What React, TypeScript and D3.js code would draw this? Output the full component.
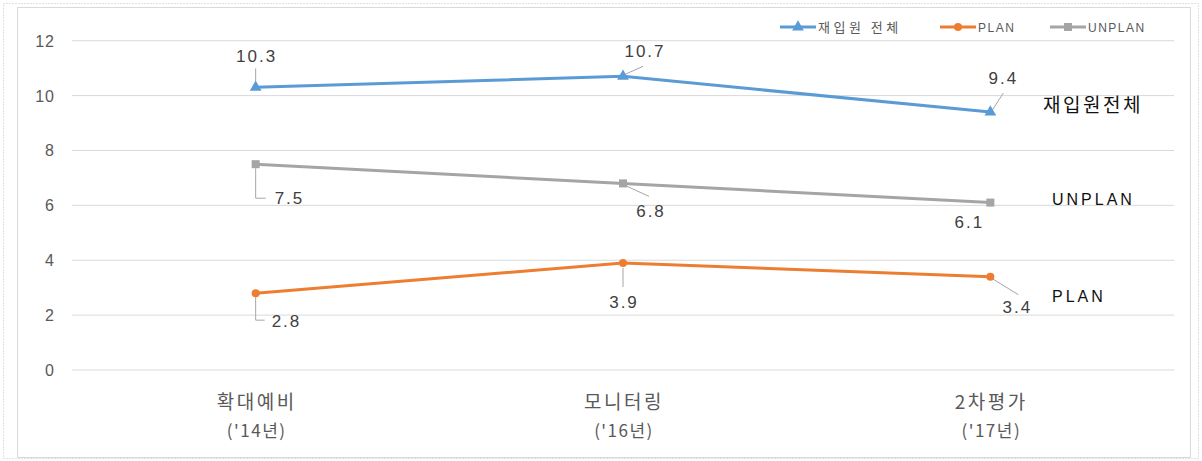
import React from "react";
import * as d3 from "d3";

const categories = ["확대예비", "모니터링", "2차평가"];
const categoryYears = ["('14년)", "('16년)", "('17년)"];
const seriesNames = ["재입원 전체", "PLAN", "UNPLAN"];
const totalValues = [10.3, 10.7, 9.4];
const planValues = [2.8, 3.9, 3.4];
const unplanValues = [7.5, 6.8, 6.1];
const yTicks = [0, 2, 4, 6, 8, 10, 12];
const sideLabels = ["재입원전체", "PLAN", "UNPLAN"];

// label placement (relative to point) — style config, not data
type LabelCfg = { dx: number; dy: number; anchor: string; leader: "v" | "d" | "elbow" | "none"; lx?: number; ly?: number };
const totalLabelCfg: LabelCfg[] = [
  { dx: 0, dy: -25, anchor: "middle", leader: "v", ly: -19 },
  { dx: 21, dy: -19, anchor: "middle", leader: "d", lx: 20, ly: -10 },
  { dx: 12, dy: -28, anchor: "middle", leader: "d", lx: 13, ly: -19 },
];
const unplanLabelCfg: LabelCfg[] = [
  { dx: 19, dy: 40, anchor: "start", leader: "elbow", lx: 10, ly: 34 },
  { dx: 27, dy: 34, anchor: "middle", leader: "d", lx: 26, ly: 13 },
  { dx: -22, dy: 25, anchor: "middle", leader: "none" },
];
const planLabelCfg: LabelCfg[] = [
  { dx: 16, dy: 34, anchor: "start", leader: "elbow", lx: 9, ly: 27 },
  { dx: 0, dy: 45, anchor: "middle", leader: "v", ly: 24 },
  { dx: 26, dy: 36, anchor: "middle", leader: "d", lx: 28, ly: 18 },
];

const W = 1202;
const H = 461;
const left = 72;
const right = 1174;

export default function App() {
  const x = d3.scaleBand<string>().domain(categories).range([left, right]);
  const y = d3.scaleLinear().domain([0, 12]).range([370, 40.7]);
  const cx = (c: string) => (x(c) as number) + x.bandwidth() / 2;

  const line = d3
    .line<number>()
    .x((_, i) => cx(categories[i]))
    .y((v) => y(v));

  const colors = ["#5B9BD5", "#ED7D31", "#A5A5A5"];
  const series = [
    { name: seriesNames[0], values: totalValues, color: colors[0], marker: "tri", cfg: totalLabelCfg },
    { name: seriesNames[1], values: planValues, color: colors[1], marker: "circ", cfg: planLabelCfg },
    { name: seriesNames[2], values: unplanValues, color: colors[2], marker: "sq", cfg: unplanLabelCfg },
  ];

  const marker = (type: string, px: number, py: number, color: string, key: string) => {
    if (type === "tri") {
      const p = d3.symbol().type(d3.symbolTriangle).size(60)();
      return <path key={key} d={p as string} transform={`translate(${px},${py})`} fill={color} />;
    }
    if (type === "circ") return <circle key={key} cx={px} cy={py} r={4} fill={color} />;
    return <rect key={key} x={px - 4} y={py - 4} width={8} height={8} fill={color} />;
  };

  const sans = "'Liberation Sans', Arial, sans-serif";
  const uiFont = "'Noto Sans CJK KR', 'Liberation Sans', Arial, sans-serif";

  const legendXs = [780, 940, 1050];

  return (
    <svg
      width={W}
      height={H}
      style={{ position: "absolute", left: 0, top: 0, background: "#fff" }}
      fontFamily={uiFont}
    >
      <rect x={3.5} y={3.5} width={1195} height={455} fill="none" stroke="#C0C0C0" strokeDasharray="1,2" />
      <rect x={17.5} y={7.5} width={1173} height={450} fill="#fff" stroke="#D9D9D9" />

      {yTicks.map((t) => (
        <g key={t}>
          <line x1={left} x2={right} y1={y(t)} y2={y(t)} stroke="#D9D9D9" strokeWidth={1} />
          <text x={55} y={y(t) + 6} textAnchor="end" fontSize={16} fill="#595959" fontFamily={sans} letterSpacing={1}>
            {t}
          </text>
        </g>
      ))}

      {categories.map((c, i) => (
        <g key={c}>
          <text x={cx(c) + 1} y={409} textAnchor="middle" fontSize={19} fill="#595959" letterSpacing={2.5}>
            {c}
          </text>
          <text x={cx(c) + 1} y={437} textAnchor="middle" fontSize={17} fill="#595959" letterSpacing={1.5}>
            {categoryYears[i]}
          </text>
        </g>
      ))}

      {series.map((s) => (
        <path key={s.name} d={line(s.values) as string} fill="none" stroke={s.color} strokeWidth={3} />
      ))}

      {series.map((s) =>
        s.values.map((v, i) => {
          const px = cx(categories[i]);
          const py = y(v);
          const c = s.cfg[i];
          let leader: React.ReactNode = null;
          if (c.leader === "v") {
            const y1 = c.ly! < 0 ? py + c.ly! : py + 5;
            const y2 = c.ly! < 0 ? py - 4 : py + c.ly!;
            leader = <line x1={px} x2={px} y1={y1} y2={y2} stroke="#A6A6A6" strokeWidth={1} />;
          } else if (c.leader === "d") {
            leader = <line x1={px + 2} y1={py + (c.ly! < 0 ? -2 : 2)} x2={px + c.lx!} y2={py + c.ly!} stroke="#A6A6A6" strokeWidth={1} />;
          } else if (c.leader === "elbow") {
            leader = (
              <polyline
                points={`${px},${py + 4} ${px},${py + c.ly!} ${px + c.lx!},${py + c.ly!}`}
                fill="none"
                stroke="#A6A6A6"
                strokeWidth={1}
              />
            );
          }
          return (
            <g key={s.name + i}>
              {leader}
              {marker(s.marker, px, py, s.color, "m")}
              <text
                x={px + c.dx + (c.anchor === "middle" ? 1 : 0)}
                y={py + c.dy}
                textAnchor={c.anchor as any}
                fontSize={17}
                fill="#404040"
                fontFamily={sans}
                letterSpacing={2}
              >
                {v.toFixed(1)}
              </text>
            </g>
          );
        })
      )}

      {/* legend */}
      {series.map((s, i) => (
        <g key={"lg" + i}>
          <line x1={legendXs[i]} x2={legendXs[i] + 36} y1={27} y2={27} stroke={s.color} strokeWidth={3} />
          {marker(s.marker, legendXs[i] + 18, 27, s.color, "lm")}
          <text
            x={legendXs[i] + 38}
            y={31.5}
            fontSize={i === 0 ? 13 : 12}
            fill="#595959"
            letterSpacing={i === 0 ? 3.5 : 1.5}
            fontFamily={i === 0 ? uiFont : sans}
          >
            {s.name}
          </text>
        </g>
      ))}

      {/* side labels */}
      <text x={1043} y={112} fontSize={19} fill="#111" letterSpacing={2.5}>
        {sideLabels[0]}
      </text>
      <text x={1052} y={205} fontSize={16} fill="#111" letterSpacing={3} fontFamily={sans}>
        {sideLabels[2]}
      </text>
      <text x={1052} y={302} fontSize={16} fill="#111" letterSpacing={3} fontFamily={sans}>
        {sideLabels[1]}
      </text>
    </svg>
  );
}
